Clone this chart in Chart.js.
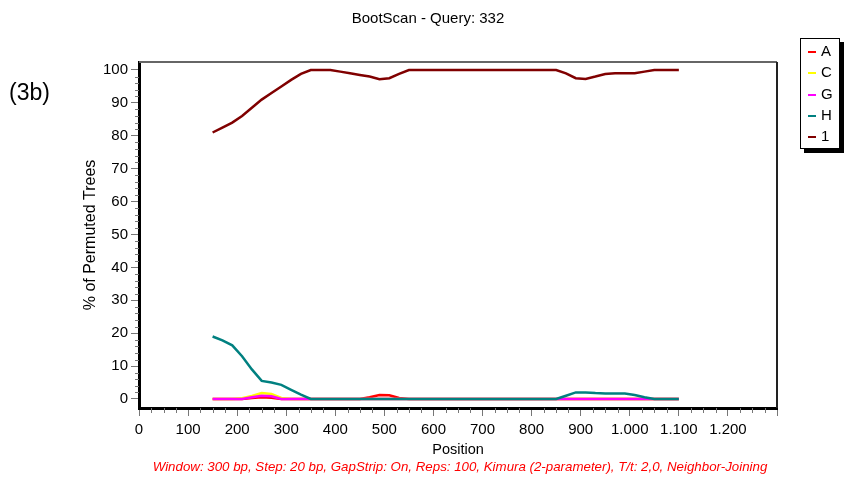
<!DOCTYPE html>
<html>
<head>
<meta charset="utf-8">
<script src="https://cdn.jsdelivr.net/npm/chart.js@4.4.1/dist/chart.umd.min.js"></script>
<style>
  body { margin: 0; background: #fff; font-family: "Liberation Sans", Arial, sans-serif; }
  #wrap { position: relative; width: 845px; height: 484px; }
  #title { position: absolute; top: 9px; left: 0; width: 856px; text-align: center; font-size: 15px; color: #000; }
  #tag { position: absolute; left: 9px; top: 79px; font-size: 23px; color: #000; }
  #footer { position: absolute; top: 459px; left: 0; width: 920px; text-align: center; font-size: 13.3px; font-style: italic; color: #ff0000; }
  #legend { position: absolute; left: 800px; top: 38px; width: 38px; height: 109px; border: 1px solid #000; background: #fff; box-shadow: 4px 4px 0 #000; }
  #legend div { position: absolute; left: 7px; font-size: 15px; line-height: 16px; }
  #legend span { display: inline-block; width: 8px; height: 2px; margin-right: 5px; vertical-align: middle; }
</style>
</head>
<body>
<div id="wrap">
  <canvas id="chart" width="845" height="484"></canvas>
  <div id="title">BootScan - Query: 332</div>
  <div id="tag">(3b)</div>
  <div id="legend"></div>
  <div id="footer">Window: 300 bp, Step: 20 bp, GapStrip: On, Reps: 100, Kimura (2-parameter), T/t: 2,0, Neighbor-Joining</div>
</div>
<script>
// window midpoints (bp)
const positions = [150,170,190,210,230,250,270,290,310,330,350,370,390,410,430,450,470,490,510,530,550,
  570,590,610,630,650,670,690,710,730,750,770,790,810,830,850,
  870,890,910,930,950,970,990,1010,1030,1050,1070,1090,1100];

const seriesNames = ['A', 'C', 'G', 'H', '1'];
const seriesColors = ['#ff0000', '#ffff00', '#ff00ff', '#008080', '#800000'];

const valuesA = [0,0,0,0,0.3,0.5,0.4,0,0,0,0,0,0,0,0,0,0.5,1.2,1.1,0.3,0,
  0,0,0,0,0,0,0,0,0,0,0,0,0,0,0,
  0,0,0,0,0,0,0,0,0,0,0,0,0];
const valuesC = [0,0,0,0.2,0.9,1.8,1.5,0.3,0,0,0,0,0,0,0,0,0,0,0,0,0,
  0,0,0,0,0,0,0,0,0,0,0,0,0,0,0,
  0,0,0,0,0,0,0,0,0,0,0,0,0];
const valuesG = [0,0,0,0,0.5,1,0.8,0,0,0,0,0,0,0,0,0,0,0,0,0,0,
  0,0,0,0,0,0,0,0,0,0,0,0,0,0,0,
  0,0,0,0,0,0,0,0,0,0,0,0,0];
const valuesH = [19,17.8,16.3,13,9,5.5,5,4.3,2.8,1.3,0,0,0,0,0,0,0,0,0,0,0,
  0,0,0,0,0,0,0,0,0,0,0,0,0,0,0,
  1,2,2,1.8,1.7,1.7,1.7,1.2,0.5,0,0,0,0];
const values1 = [81,82.5,84,86,88.5,91,93,95,97,98.8,100,100,100,99.5,99,98.5,98,97.2,97.5,98.8,100,
  100,100,100,100,100,100,100,100,100,100,100,100,100,100,100,
  99,97.5,97.3,98,98.8,99,99,99,99.5,100,100,100,100];

const xTicks = [0,100,200,300,400,500,600,700,800,900,1000,1100,1200,1300];
const yTicks = [0,10,20,30,40,50,60,70,80,90,100];

const allValues = [valuesA, valuesC, valuesG, valuesH, values1];

// legend
const legendEl = document.getElementById('legend');
seriesNames.forEach((name, i) => {
    const item = document.createElement('div');
    item.style.top = (4 + i * 21.3) + 'px';
    item.innerHTML = `<span style="background:${seriesColors[i]}"></span>${name}`;
    legendEl.appendChild(item);
});

function fmtThousands(v) {
    return String(v).replace(/\B(?=(\d{3})+(?!\d))/g, '.');
}

// frame on top/right plus the small minor ticks
const framePlugin = {
    id: 'frame',
    afterDraw(chart) {
        const { ctx, chartArea: a, scales: { x, y } } = chart;
        ctx.save();
        ctx.strokeStyle = '#666';
        ctx.lineWidth = 2;
        ctx.beginPath();
        ctx.moveTo(a.left, a.top);
        ctx.lineTo(a.right, a.top);
        ctx.stroke();
        ctx.strokeStyle = '#222';
        ctx.beginPath();
        ctx.moveTo(a.right, a.top);
        ctx.lineTo(a.right, a.bottom);
        ctx.stroke();

        ctx.strokeStyle = '#777';
        ctx.lineWidth = 1;
        ctx.beginPath();
        for (let v = 25; v < 1300; v += 25) {
            if (v % 100 === 0) continue;
            const px = Math.round(x.getPixelForValue(v)) + 0.5;
            ctx.moveTo(px, a.bottom);
            ctx.lineTo(px, a.bottom + 5);
        }
        for (let v = 2; v < 102; v += 2) {
            if (v % 10 === 0) continue;
            const py = Math.round(y.getPixelForValue(v)) + 0.5;
            ctx.moveTo(a.left - 4, py);
            ctx.lineTo(a.left, py);
        }
        ctx.stroke();
        ctx.restore();
    }
};

new Chart(document.getElementById('chart'), {
    type: 'line',
    data: {
        labels: positions,
        datasets: seriesNames.map((name, i) => ({
            label: name,
            data: positions.map((p, j) => ({ x: p, y: allValues[i][j] })),
            borderColor: seriesColors[i],
            borderWidth: 2.5,
            pointRadius: 0,
            tension: 0,
            fill: false,
            order: 4 - i
        }))
    },
    options: {
        responsive: false,
        animation: false,
        layout: { padding: { left: 0, top: 62, right: 68, bottom: 0 } },
        plugins: { legend: { display: false }, tooltip: { enabled: false } },
        scales: {
            x: {
                type: 'linear',
                min: 0,
                max: 1300,
                afterFit(scale) { scale.height = 76; },
                afterBuildTicks(scale) { scale.ticks = xTicks.map(v => ({ value: v })); },
                ticks: {
                    autoSkip: false,
                    maxRotation: 0,
                    padding: 5,
                    color: '#000',
                    font: { family: 'Liberation Sans', size: 15 },
                    callback: v => (v === 1300 ? '' : fmtThousands(v))
                },
                grid: { drawOnChartArea: false, drawTicks: true, tickLength: 8, color: '#777' },
                border: { color: '#000', width: 3 },
                title: {
                    display: true,
                    text: 'Position',
                    color: '#000',
                    font: { family: 'Liberation Sans', size: 14.5 },
                    padding: { top: 0, bottom: 25 }
                }
            },
            y: {
                min: -2.74,
                max: 102.43,
                afterFit(scale) { scale.width = 139; },
                afterBuildTicks(scale) { scale.ticks = yTicks.map(v => ({ value: v })); },
                ticks: {
                    autoSkip: false,
                    padding: 3,
                    color: '#000',
                    font: { family: 'Liberation Sans', size: 15 },
                },
                grid: { drawOnChartArea: false, drawTicks: true, tickLength: 8, color: '#777' },
                border: { color: '#000', width: 3 },
                title: {
                    display: true,
                    text: '% of Permuted Trees',
                    color: '#000',
                    font: { family: 'Liberation Sans', size: 16 },
                    padding: { top: 81, bottom: 0 }
                }
            }
        }
    },
    plugins: [framePlugin]
});
</script>
</body>
</html>
